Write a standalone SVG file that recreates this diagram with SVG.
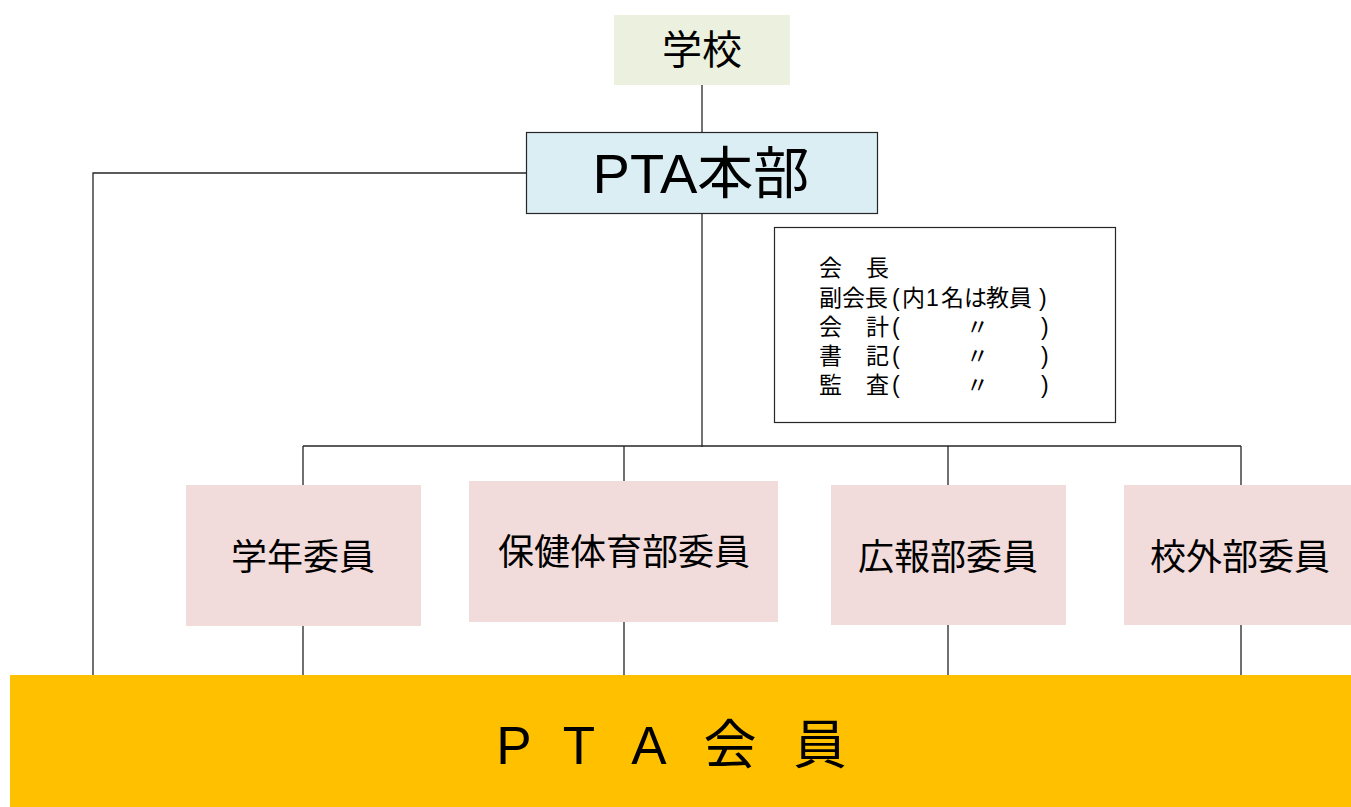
<svg xmlns="http://www.w3.org/2000/svg" width="1351" height="807" viewBox="0 0 1351 807">
<style>
.t{font-family:"Liberation Sans","Noto Sans CJK JP",sans-serif;fill:#000}
.c{text-anchor:middle;dominant-baseline:central}
.ln{stroke:#262626;stroke-width:1.3;fill:none}
.com{fill:#F2DCDB}
.info{font-size:23px;dominant-baseline:central}
</style>
<rect width="1351" height="807" fill="#fff"/>
<g id="connectors">
<path class="ln" d="M702 85V132"/>
<path class="ln" d="M526 173H93V675"/>
<path class="ln" d="M702 214V447"/>
<path class="ln" d="M303 446H1241"/>
<path class="ln" d="M303 446V485M624 446V481M948 446V485M1241 446V485"/>
<path class="ln" d="M303 626V675M624 622V675M948 625V675M1241 625V675"/>
</g>
<g id="school">
<rect x="614" y="15" width="176" height="70" fill="#EBF1DE"/>
<text class="t c" x="702" y="50" font-size="40">学校</text>
</g>
<g id="pta-hq">
<rect x="526.5" y="132.5" width="351" height="81" fill="#DAEEF3" stroke="#262626" stroke-width="1.2"/>
<text class="t c" x="701" y="173" font-size="56">PTA本部</text>
</g>
<g id="officers">
<rect x="774.5" y="227.5" width="341" height="195" fill="#fff" stroke="#262626" stroke-width="1.2"/>
<text class="t info" x="819 866" y="268">会長</text>
<text class="t info" x="819 842 865 892 902 926 941 964 986 1009 1039" y="298">副会長(内1名は教員)</text>
<text class="t info" x="819 866 892" y="327">会計(</text>
<text class="t info" x="966" y="327">〃</text>
<text class="t info" x="1041" y="327">)</text>
<text class="t info" x="819 866 892" y="356">書記(</text>
<text class="t info" x="966" y="356">〃</text>
<text class="t info" x="1041" y="356">)</text>
<text class="t info" x="819 866 892" y="385">監査(</text>
<text class="t info" x="966" y="385">〃</text>
<text class="t info" x="1041" y="385">)</text>
</g>
<g id="grade">
<rect class="com" x="186" y="485" width="235" height="141"/>
<text class="t c" x="303" y="557" font-size="36">学年委員</text>
</g>
<g id="health">
<rect class="com" x="469" y="481" width="309" height="141"/>
<text class="t c" x="624" y="552" font-size="36">保健体育部委員</text>
</g>
<g id="pr">
<rect class="com" x="831" y="485" width="235" height="140"/>
<text class="t c" x="948" y="557" font-size="36">広報部委員</text>
</g>
<g id="external">
<rect class="com" x="1124" y="485" width="227" height="140"/>
<text class="t c" x="1240" y="557" font-size="36">校外部委員</text>
</g>
<g id="members">
<rect x="10" y="675" width="1341" height="132" fill="#FFC000"/>
<text class="t c" x="514 579 649 730 820" y="745" font-size="53">PTA会員</text>
</g>
</svg>
